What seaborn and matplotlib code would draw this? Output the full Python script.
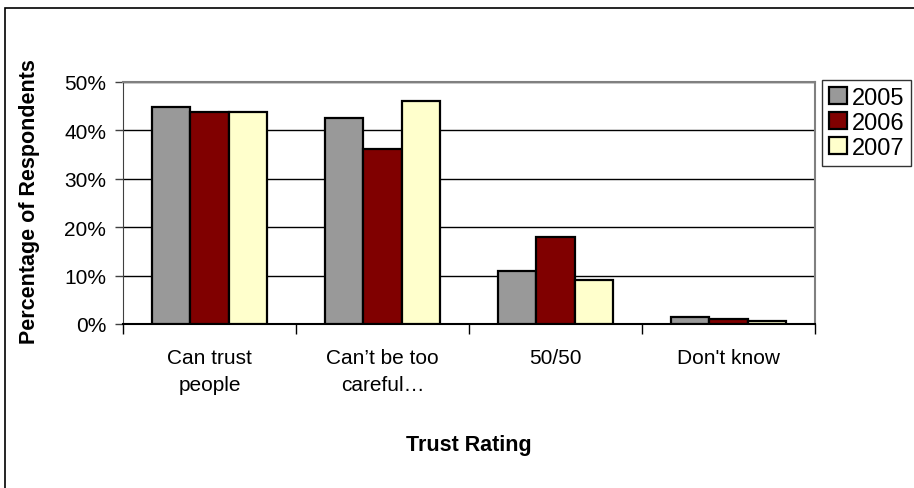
import pandas as pd
import seaborn as sns
import matplotlib.pyplot as plt
from matplotlib.patches import Rectangle
from matplotlib.ticker import PercentFormatter

categories = ['Can trust\npeople', 'Can\u2019t be too\ncareful\u2026', '50/50', "Don't know"]
years = ['2005', '2006', '2007']
pct_2005 = [44.8, 42.5, 11.0, 1.5]
pct_2006 = [43.9, 36.2, 17.9, 1.0]
pct_2007 = [43.9, 46.0, 9.1, 0.6]
colors = ['#999999', '#800000', '#FFFFCC']

df = pd.DataFrame({
  'rating': categories * 3,
  'year': [y for y in years for _ in categories],
  'pct': pct_2005 + pct_2006 + pct_2007,
})

sns.set_style('white')
plt.rcParams['font.family'] = ['Liberation Sans', 'DejaVu Sans']
plt.rcParams['text.color'] = 'black'
plt.rcParams['xtick.color'] = 'black'
plt.rcParams['ytick.color'] = 'black'

fig = plt.figure(figsize=(9.14, 4.89), dpi=100)
ax = fig.add_axes([123 / 914, 1 - 325 / 489, (815 - 123) / 914, (325 - 83) / 489])

sns.barplot(data=df, x='rating', y='pct', hue='year', palette=colors, saturation=1,
            width=0.67, edgecolor='black', linewidth=1.6, ax=ax, zorder=3)

ax.set_ylim(0, 50)
ax.set_xlim(-0.5, 3.5)
ax.set_yticks(range(0, 51, 10))
ax.yaxis.set_major_formatter(PercentFormatter(decimals=0))
ax.grid(axis='y', color='black', linewidth=1, zorder=0)
ax.set_axisbelow(True)

# category ticks at the boundaries, labels in between
ax.set_xticks([-0.5, 0.5, 1.5, 2.5, 3.5])
ax.set_xticklabels([])
ax.set_xticks(range(len(categories)), categories, minor=True)
ax.tick_params(axis='x', which='major', direction='out', length=7, width=1, color='black', bottom=True)
ax.tick_params(axis='x', which='minor', length=0, pad=17, labelsize=15)
ax.tick_params(axis='y', direction='out', length=6, width=1, color='#404040', left=True, pad=6, labelsize=15)
for lab in ax.get_xticklabels(minor=True):
  lab.set_linespacing(1.55)

for side in ['top', 'right']:
  ax.spines[side].set_color('#808080')
  ax.spines[side].set_linewidth(1.5)
ax.spines['left'].set_color('#404040')
ax.spines['bottom'].set_color('black')
ax.spines['bottom'].set_linewidth(1.5)

ax.set_xlabel('')
ax.set_ylabel('')
fig.text(469 / 914, 1 - 446 / 489, 'Trust Rating', ha='center', va='center',
         fontsize=15.5, fontweight='bold')
fig.text(30 / 914, 1 - 202 / 489, 'Percentage of Respondents', ha='center', va='center',
         rotation=90, fontsize=15.5, fontweight='bold')

ax.legend(loc='upper left', bbox_to_anchor=(822 / 914, 1 - 81 / 489),
          bbox_transform=fig.transFigure, frameon=True, fancybox=False,
          edgecolor='black', fontsize=17, handlelength=0.75, handleheight=0.75,
          handletextpad=0.2, borderpad=0.3, labelspacing=0.12, borderaxespad=0)
ax.get_legend().get_frame().set_linewidth(1)

# outer chart border
fig.patches.append(Rectangle((5 / 914, -0.1), 1.2, 1 - 9 / 489 + 0.1,
                             transform=fig.transFigure, fill=False,
                             edgecolor='black', linewidth=1.2))

fig.savefig('out.png', dpi=100)
